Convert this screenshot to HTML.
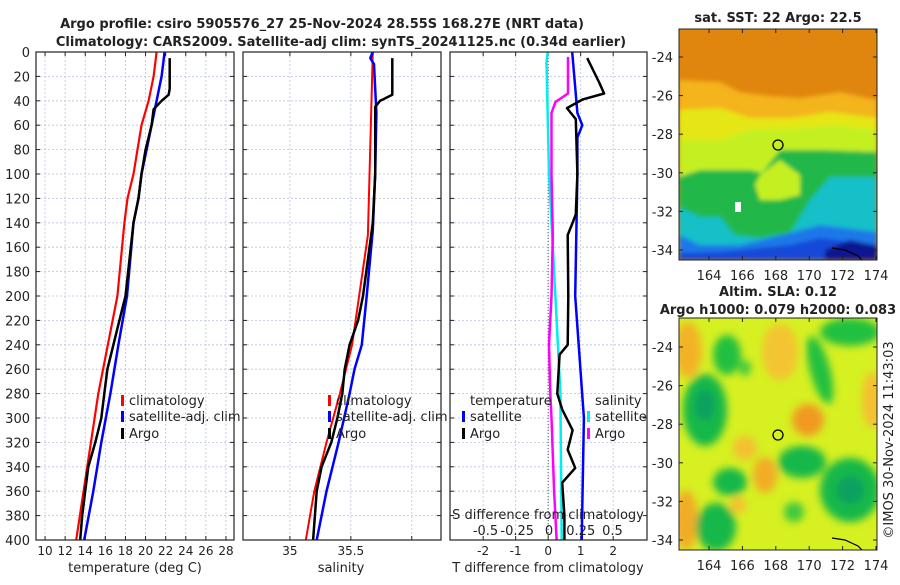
<!DOCTYPE html>
<html><head><meta charset="utf-8"><style>
body{margin:0;background:#fff}
svg text{font-family:"DejaVu Sans","Liberation Sans",sans-serif;fill:#222}
</style></head><body>
<svg id="c" width="900" height="580" viewBox="0 0 900 580" xmlns="http://www.w3.org/2000/svg">
<defs>
<filter id="bl" x="-30%" y="-30%" width="160%" height="160%"><feGaussianBlur stdDeviation="4"/></filter>
<filter id="bl2"><feGaussianBlur stdDeviation="2"/></filter>
<clipPath id="m1"><rect x="679" y="29" width="198" height="231"/></clipPath>
<clipPath id="m2"><rect x="679" y="318" width="198" height="232"/></clipPath>
</defs>
<text x="322" y="28" text-anchor="middle" font-size="13" font-weight="bold">Argo profile: csiro 5905576_27 25-Nov-2024 28.55S 168.27E (NRT data)</text>
<text x="341" y="46" text-anchor="middle" font-size="13" font-weight="bold">Climatology: CARS2009. Satellite-adj clim: synTS_20241125.nc (0.34d earlier)</text>
<g id="plots"></g>
<!-- SST map -->
<g clip-path="url(#m1)">
<rect x="679" y="29" width="198" height="231" fill="#e0860e"/>
<g filter="url(#bl2)">
<path d="M679 80 L720 82 L740 92 L770 96 L800 98 L840 92 L877 100 L877 260 L679 260Z" fill="#f4b41c"/>
<path d="M679 110 L720 108 L750 118 L790 118 L830 112 L877 118 L877 260 L679 260Z" fill="#e6e618"/>
<path d="M679 140 L720 140 L750 130 L790 128 L840 125 L877 130 L877 260 L679 260Z" fill="#c4f020"/>
<path d="M679 177 L700 170 L750 170 L762 173 L780 150 L820 150 L877 152 L877 260 L679 260Z" fill="#20b848"/>
<path d="M755 185 L760 200 L780 200 L800 195 L800 175 L780 160 L760 175Z" fill="#c4f020"/>
<path d="M679 207 L700 217 L720 217 L735 235 L760 238 L790 233 L810 200 L830 177 L877 177 L877 260 L679 260Z" fill="#12c0c8"/>
<path d="M679 235 L700 245 L740 245 L790 233 L820 225 L877 232 L877 260 L679 260Z" fill="#1e78e8"/>
<path d="M679 253 L720 252 L790 245 L820 238 L877 245 L877 260 L679 260Z" fill="#1848d8"/>
<path d="M825 250 L850 240 L877 246 L877 260 L825 260Z" fill="#0a1490"/>
</g>
<rect x="735" y="202" width="6" height="10" fill="#fff"/>
<path d="M832 248 L845 250 L858 256 L862 260" stroke="#000" fill="none" stroke-width="1.2"/>
</g>
<rect x="679" y="29" width="198" height="231" fill="none" stroke="#222"/>
<circle cx="778" cy="145" r="5" fill="none" stroke="#000" stroke-width="1.3"/>
<text x="778" y="22" text-anchor="middle" font-size="13" font-weight="bold">sat. SST: 22 Argo: 22.5</text>
<!-- SLA map -->
<g clip-path="url(#m2)">
<rect x="679" y="318" width="198" height="232" fill="#d6f022"/>
<g filter="url(#bl)">
<ellipse cx="688" cy="350" rx="14" ry="28" fill="#f2b428"/>
<ellipse cx="780" cy="352" rx="18" ry="28" fill="#f4c430"/>
<ellipse cx="808" cy="420" rx="16" ry="16" fill="#f09a20"/>
<ellipse cx="745" cy="448" rx="12" ry="12" fill="#f4c030"/>
<ellipse cx="765" cy="475" rx="12" ry="18" fill="#f2ac28"/>
<ellipse cx="686" cy="520" rx="12" ry="30" fill="#f2ac28"/>
<ellipse cx="872" cy="400" rx="10" ry="28" fill="#f4c030"/>
<ellipse cx="738" cy="505" rx="8" ry="8" fill="#f4c030"/>
<ellipse cx="727" cy="355" rx="14" ry="20" fill="#22c040"/>
<ellipse cx="705" cy="410" rx="22" ry="36" fill="#18b848"/>
<ellipse cx="705" cy="405" rx="10" ry="16" fill="#10a060"/>
<ellipse cx="745" cy="368" rx="6" ry="8" fill="#40c840"/>
<ellipse cx="820" cy="370" rx="10" ry="35" fill="#22c040" transform="rotate(-15 820 370)"/>
<ellipse cx="850" cy="332" rx="30" ry="14" fill="#22c040"/>
<ellipse cx="802" cy="462" rx="24" ry="16" fill="#18b848"/>
<ellipse cx="730" cy="482" rx="17" ry="14" fill="#18b848"/>
<ellipse cx="850" cy="490" rx="30" ry="32" fill="#18b848"/>
<ellipse cx="850" cy="490" rx="14" ry="14" fill="#10a060"/>
<ellipse cx="716" cy="527" rx="20" ry="24" fill="#18b848"/>
<ellipse cx="794" cy="512" rx="10" ry="10" fill="#40c840"/>
</g>
<path d="M832 538 L845 540 L858 546 L862 550" stroke="#000" fill="none" stroke-width="1.2"/>
</g>
<rect x="679" y="318" width="198" height="232" fill="none" stroke="#222"/>
<circle cx="778" cy="435" r="5" fill="none" stroke="#000" stroke-width="1.3"/>
<text x="778" y="296" text-anchor="middle" font-size="13" font-weight="bold">Altim. SLA: 0.12</text>
<text x="778" y="314" text-anchor="middle" font-size="13" font-weight="bold">Argo h1000: 0.079 h2000: 0.083</text>
<text transform="translate(893,440) rotate(-90)" text-anchor="middle" font-size="13">©IMOS 30-Nov-2024 11:43:03</text>
<g id="maps"></g>
</svg>
<script>
// ---- data ----
const depthTicks=[0,20,40,60,80,100,120,140,160,180,200,220,240,260,280,300,320,340,360,380,400];
const tempTicks=[10,12,14,16,18,20,22,24,26,28];
const salTicks=[35,35.5,36];
const salTickLabels=["35","35.5",""];
const tdTicks=[-2,-1,0,1,2];
const sdTicks=[-0.5,-0.25,0,0.25,0.5];
const sdTickLabels=["-0.5","-0.25","0","0.25","0.5"];
const climDepth=[0,20,40,60,80,100,120,140,200,280,400];
const climTemp=[21.1,20.8,20.3,19.6,19.2,18.8,18.2,17.9,17.2,15.3,13.1];
const satDepth=[0,20,40,60,80,100,120,140,200,240,280,320,360,400];
const satTemp=[21.9,21.6,21.1,20.6,20.1,19.6,19.3,18.8,18.15,17.3,16.5,15.6,14.8,13.9];
const argoDepth=[5,30,35,40,47,60,80,100,120,140,200,220,240,260,280,300,320,340,360,380,400];
const argoTemp=[22.4,22.4,22.3,21.6,20.8,20.6,20.0,19.6,19.3,18.8,18.0,17.4,16.8,16.2,15.9,15.6,15.0,14.3,14.0,13.7,13.5];
const climSalDepth=[0,150,240,280,320,360,400];
const climSal=[35.68,35.64,35.51,35.41,35.30,35.2,35.13];
const satSalDepth=[0,5,10,50,100,146,200,240,260,280,320,360,400];
const satSal=[35.68,35.66,35.69,35.71,35.70,35.68,35.63,35.59,35.53,35.49,35.4,35.3,35.22];
const argoSalDepth=[5,35,40,45,60,100,140,200,220,240,260,280,300,320,340,360,400];
const argoSal=[35.84,35.84,35.74,35.7,35.70,35.70,35.68,35.6,35.56,35.49,35.45,35.43,35.39,35.34,35.26,35.22,35.19];
const tdSatDepth=[0,50,60,70,100,200,300,400];
const tdSat=[0.74,0.9,1.05,0.9,0.9,0.83,1.1,1.03];
const tdArgoDepth=[5,25,34,39,46,55,100,133,140,150,200,240,248,280,293,310,326,341,353,380,400];
const tdArgo=[1.2,1.57,1.72,1.05,0.58,0.85,0.9,0.85,0.75,0.6,0.62,0.6,0.35,0.28,0.43,0.75,0.6,0.83,0.43,0.5,0.5];
const sdSatDepth=[0,8,100,200,280,400];
const sdSat=[-0.01,-0.02,0.0,0.05,0.09,0.1];
const sdArgoDepth=[4,34,41,50,100,150,200,240,280,300,330,360,400];
const sdArgo=[0.15,0.15,0.05,0.02,0.02,0.03,0.02,0.0,0.01,0.02,0.03,0.04,0.06];
const lonTicks=[164,166,168,170,172,174];
const latTicks=[-24,-26,-28,-30,-32,-34];
// ---- layout ----
const NS='http://www.w3.org/2000/svg';
const G=document.getElementById('plots');
const top0=52,bot0=540;
const yD=d=>top0+(bot0-top0)*d/400;
function el(t,a,p){const e=document.createElementNS(NS,t);for(const k in a)e.setAttribute(k,a[k]);(p||G).appendChild(e);return e;}
function txt(x,y,s,anchor,size,p){const e=el('text',{x:x,y:y,'text-anchor':anchor||'middle','font-size':size||12},p);e.textContent=s;return e;}
const panels=[
 {x0:36,x1:234,min:9.1,max:28.8,name:'temperature'},
 {x0:243,x1:441,min:34.615,max:36.24,name:'salinity'},
 {x0:450,x1:647,min:-3.02,max:3.04,name:'difference'}];
panels.forEach(p=>{p.f=v=>p.x0+(p.x1-p.x0)*(v-p.min)/(p.max-p.min);});
const sdX=v=>549+127*v;
function gridV(p,ticks,labels){
 ticks.forEach((t,i)=>{const x=p.f(t);
  const g=el('line',{x1:x,x2:x,y1:top0,y2:bot0,stroke:'#b8c4e0','stroke-dasharray':'2,2','stroke-width':0.8});
  
  el('line',{x1:x,x2:x,y1:bot0,y2:bot0-4,stroke:'#222'});el('line',{x1:x,x2:x,y1:top0,y2:top0+4,stroke:'#222'});
  const l=txt(x,555,labels?labels[i]:String(t));
  });
}
panels.forEach((p,pi)=>{
 depthTicks.forEach(d=>{const y=yD(d);
  const g=el('line',{x1:p.x0,x2:p.x1,y1:y,y2:y,stroke:'#b8c4e0','stroke-dasharray':'2,2','stroke-width':0.8});
  
  el('line',{x1:p.x0,x2:p.x0+4,y1:y,y2:y,stroke:'#222'});el('line',{x1:p.x1,x2:p.x1-4,y1:y,y2:y,stroke:'#222'});
  if(pi===0){const l=txt(30,y+5,String(d),'end',13);}
 });
});
gridV(panels[0],tempTicks);
gridV(panels[1],salTicks,salTickLabels);
gridV(panels[2],tdTicks);
function line(p,xs,ds,color,w,fx,name){
 const f=fx||p.f;
 const pts=xs.map((v,i)=>f(v).toFixed(1)+','+yD(ds[i]).toFixed(1)).join(' ');
 const e=el('polyline',{points:pts,fill:'none',stroke:color,'stroke-width':w,'stroke-linejoin':'round'});
 
}
const P=panels;
line(P[0],climTemp,climDepth,'#f00',2.2,null,'clim-temp-line');
line(P[0],satTemp,satDepth,'#00f',2.5,null,'sat-temp-line');
line(P[0],argoTemp,argoDepth,'#000',2.5,null,'argo-temp-line');
line(P[1],climSal,climSalDepth,'#f00',2,null,'clim-sal-line');
line(P[1],satSal,satSalDepth,'#00f',2.5,null,'sat-sal-line');
line(P[1],argoSal,argoSalDepth,'#000',2.5,null,'argo-sal-line');
const z=el('line',{x1:P[2].f(0),x2:P[2].f(0),y1:top0,y2:bot0,stroke:'#556','stroke-dasharray':'1,2','stroke-width':1});

line(P[2],sdSat,sdSatDepth,'#0ee',2.5,sdX,'sat-sal-diff-line');
line(P[2],sdArgo,sdArgoDepth,'#f0f',2.5,sdX,'argo-sal-diff-line');
line(P[2],tdSat,tdSatDepth,'#00f',2.5,null,'sat-temp-diff-line');
line(P[2],tdArgo,tdArgoDepth,'#000',2.5,null,'argo-temp-diff-line');
panels.forEach(p=>{const r=el('rect',{x:p.x0,y:top0,width:p.x1-p.x0,height:bot0-top0,fill:'none',stroke:'#222','stroke-width':1.2});
 });
const sl=txt(548,519,'S difference from climatology','middle',13);
sdTicks.forEach((t,i)=>{const l=txt(sdX(t),535,sdTickLabels[i],'middle',13);});
[[135,'temperature (deg C)'],[341,'salinity'],[548,'T difference from climatology']].forEach(a=>{const l=txt(a[0],572,a[1],'middle',13);});
function leg(x,y,color,label){
 const m=el('rect',{x:x,y:y-10,width:3,height:11,fill:color});
 const t=txt(x+8,y,label,'start',13);
}
leg(121,405,'#f00','climatology');leg(121,421,'#00f','satellite-adj. clim');leg(121,438,'#000','Argo');
leg(328,405,'#f00','climatology');leg(328,421,'#00f','satellite-adj. clim');leg(328,438,'#000','Argo');
let t1=txt(470,405,'temperature','start',13);
leg(462,421,'#00f','satellite');leg(462,438,'#000','Argo');
let t2=txt(595,405,'salinity','start',13);
leg(587,421,'#0ee','satellite');leg(587,438,'#f0f','Argo');
const M=document.getElementById('maps');
const lonX=l=>709+(l-164)*16.7;
function mapAxes(y0,y1,latY){
 lonTicks.forEach(l=>{const x=lonX(l);el('line',{x1:x,x2:x,y1:y1,y2:y1-4,stroke:'#222'},M);el('line',{x1:x,x2:x,y1:y0,y2:y0+4,stroke:'#222'},M);
  const t=txt(x,y1+20,String(l),'middle',13,M);});
 latTicks.forEach(a=>{const y=latY(a);el('line',{x1:679,x2:683,y1:y,y2:y,stroke:'#222'},M);el('line',{x1:877,x2:873,y1:y,y2:y,stroke:'#222'},M);
  const t=txt(673,y+5,String(a),'end',13,M);});
}
mapAxes(29,260,a=>57+(-24-a)*19.3);
mapAxes(318,550,a=>347+(-24-a)*19.3);
</script>
</body></html>
